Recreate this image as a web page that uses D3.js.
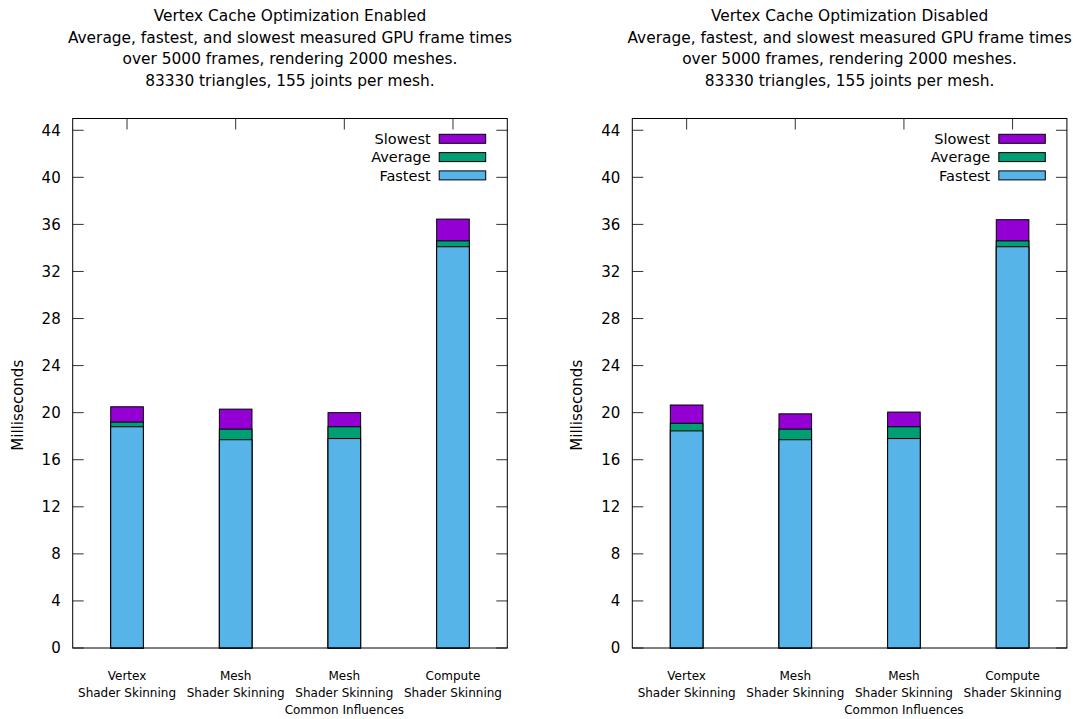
<!DOCTYPE html>
<html>
<head>
<meta charset="utf-8">
<script src="https://cdn.jsdelivr.net/npm/d3@7/dist/d3.min.js"></script>
<style>
  html, body { margin: 0; padding: 0; background: #fff; }
  svg { display: block; }
  text { font-family: "DejaVu Sans", Verdana, sans-serif; fill: #000; }
</style>
</head>
<body>
<svg id="chart" width="1073" height="719"></svg>
<script>
// Skinning methods along the x axis (one entry per line of the label)
const categories = [
  ["Vertex", "Shader Skinning"],
  ["Mesh", "Shader Skinning"],
  ["Mesh", "Shader Skinning", "Common Influences"],
  ["Compute", "Shader Skinning"]
];

// GPU frame times in milliseconds, vertex cache optimization enabled
const enabledFastest = [18.8, 17.7, 17.8, 34.1];
const enabledAverage = [19.2, 18.6, 18.8, 34.6];
const enabledSlowest = [20.5, 20.3, 20.0, 36.45];

// GPU frame times in milliseconds, vertex cache optimization disabled
const disabledFastest = [18.45, 17.7, 17.8, 34.1];
const disabledAverage = [19.1, 18.6, 18.8, 34.6];
const disabledSlowest = [20.65, 19.9, 20.05, 36.4];

const yTicks = [0, 4, 8, 12, 16, 20, 24, 28, 32, 36, 40, 44];

const sharedSubtitle = [
  "Average, fastest, and slowest measured GPU frame times",
  "over 5000 frames, rendering 2000 meshes.",
  "83330 triangles, 155 joints per mesh."
];
const titleEnabled = ["Vertex Cache Optimization Enabled", ...sharedSubtitle];
const titleDisabled = ["Vertex Cache Optimization Disabled", ...sharedSubtitle];

const seriesNames = ["Slowest", "Average", "Fastest"];
const seriesColors = ["#9400d3", "#009e73", "#56b4e9"];

const svg = d3.select("#chart");

function drawPanel(left, titleLines, slowest, average, fastest) {
  const x0 = left, x1 = left + 434.6;
  const yTop = 118.5, yBottom = 648;
  const x = d3.scaleLinear().domain([-0.5, 3.5]).range([x0, x1]);
  const y = d3.scaleLinear().domain([0, 45]).range([yBottom, yTop]);
  const g = svg.append("g");
  const barW = x(0.15) - x(-0.15);

  // Title block
  const cx = (x0 + x1) / 2;
  g.selectAll("text.title").data(titleLines).join("text")
    .attr("class", "title")
    .attr("x", cx)
    .attr("y", (d, i) => 21 + i * 21.5)
    .attr("text-anchor", "middle")
    .style("font-size", "15.4px")
    .text(d => d);

  // Bars: slowest behind, then average, then fastest in front
  const layers = [slowest, average, fastest];
  layers.forEach((vals, k) => {
    g.selectAll("rect.s" + k).data(vals).join("rect")
      .attr("class", "s" + k)
      .attr("x", (d, i) => x(i) - barW / 2)
      .attr("y", d => y(d))
      .attr("width", barW)
      .attr("height", d => y(0) - y(d))
      .attr("fill", seriesColors[k])
      .attr("stroke", "#000")
      .attr("stroke-width", 1);
  });

  // Y ticks (inward on both sides)
  const tickLen = 11;
  yTicks.forEach(t => {
    g.append("line").attr("x1", x0).attr("x2", x0 + tickLen)
      .attr("y1", y(t)).attr("y2", y(t)).attr("stroke", "#333");
    g.append("line").attr("x1", x1).attr("x2", x1 - tickLen)
      .attr("y1", y(t)).attr("y2", y(t)).attr("stroke", "#333");
  });
  g.selectAll("text.ytick").data(yTicks).join("text")
    .attr("class", "ytick")
    .attr("x", x0 - 12)
    .attr("y", d => y(d))
    .attr("dy", "0.36em")
    .attr("text-anchor", "end")
    .style("font-size", "15px")
    .text(d => d);

  // X ticks mirrored at the top
  categories.forEach((c, i) => {
    g.append("line").attr("x1", x(i)).attr("x2", x(i))
      .attr("y1", yTop).attr("y2", yTop + tickLen).attr("stroke", "#333");
  });

  // Category labels
  categories.forEach((lines, i) => {
    lines.forEach((ln, j) => {
      g.append("text")
        .attr("x", x(i))
        .attr("y", 680 + j * 17)
        .attr("text-anchor", "middle")
        .style("font-size", "12px")
        .text(ln);
    });
  });

  // Frame
  g.append("rect")
    .attr("x", x0).attr("y", yTop)
    .attr("width", x1 - x0).attr("height", yBottom - yTop)
    .attr("fill", "none").attr("stroke", "#000").attr("stroke-width", 1);

  // Y axis title
  g.append("text")
    .attr("transform", `translate(${x0 - 50},${(yTop + yBottom) / 2 + 22}) rotate(-90)`)
    .attr("text-anchor", "middle")
    .style("font-size", "15px")
    .text("Milliseconds");

  // Legend
  seriesNames.forEach((name, k) => {
    const ly = 138.8 + k * 18.3;
    g.append("rect")
      .attr("x", x0 + 366.5).attr("y", ly - 4.5)
      .attr("width", 46.5).attr("height", 9)
      .attr("fill", seriesColors[k]).attr("stroke", "#000");
    g.append("text")
      .attr("x", x0 + 358)
      .attr("y", ly).attr("dy", "0.36em")
      .attr("text-anchor", "end")
      .style("font-size", "14.5px")
      .text(name);
  });
}

drawPanel(72.7, titleEnabled, enabledSlowest, enabledAverage, enabledFastest);
drawPanel(632.3, titleDisabled, disabledSlowest, disabledAverage, disabledFastest);
</script>
</body>
</html>
